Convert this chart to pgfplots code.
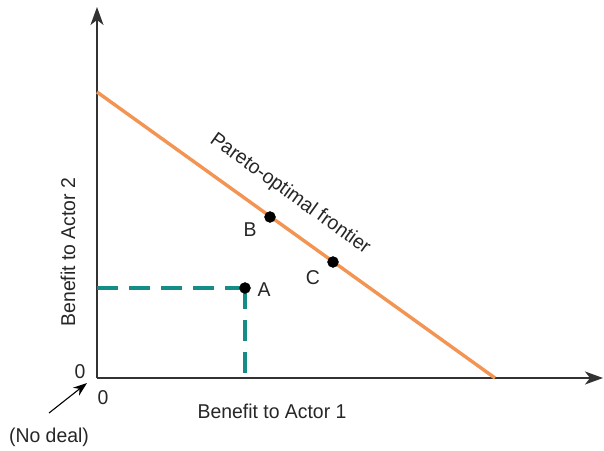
\documentclass[border=0pt]{standalone}
\usepackage{fontspec}
\setmainfont[FakeStretch=0.97]{Liberation Sans}
\usepackage{pgfplots}
\pgfplotsset{compat=1.18}
\usetikzlibrary{arrows.meta}
\definecolor{frontier}{RGB}{243,148,82}
\definecolor{tealdash}{RGB}{22,140,134}
\definecolor{axisgray}{RGB}{50,50,50}
\newcommand\lf{\fontsize{20}{22}\selectfont}
\begin{document}
\begin{tikzpicture}
\useasboundingbox (-97pt,-72pt) rectangle (507pt,378pt);
\begin{axis}[
  at={(0pt,0pt)}, anchor=south west,
  scale only axis, width=506pt, height=371pt,
  xmin=0, xmax=506, ymin=0, ymax=371,
  axis lines=left,
  axis line style={draw=axisgray, line width=1.3pt, -{Stealth[length=18pt,width=13pt,inset=5pt]}},
  xtick=\empty, ytick=\empty,
  clip=false,
]
% frontier
\addplot[frontier, line width=3.4pt] coordinates {(0,286) (398,0)};
% dashed
\addplot[tealdash, line width=3.2pt, dash pattern=on 21pt off 11pt] coordinates {(0,90) (148,90)};
\addplot[tealdash, line width=3.2pt, dash pattern=on 21pt off 11pt] coordinates {(148,90) (148,0)};
% points
\addplot[only marks, mark=*, mark size=5.5pt, black] coordinates {(148,90) (173,161) (236,116)};
% labels
\node[text=black!85] at (axis cs:153,148) {\lf B};
\node[text=black!85] at (axis cs:216,100) {\lf C};
\node[text=black!85] at (axis cs:167,88) {\lf A};
\node[text=black!85, rotate=-35.7] at (axis cs:193,184) {\lf Pareto-optimal frontier};
\node[text=black!85] at (axis cs:175,-33) {\lf Benefit to Actor 1};
\node[text=black!85, rotate=90] at (axis cs:-29,126) {\lf Benefit to Actor 2};
\node[text=black!85] at (axis cs:-17,6) {\lf 0};
\node[text=black!85] at (axis cs:6,-20) {\lf 0};
\node[text=black!85] at (axis cs:-48,-59) {\lf (No deal)};
\draw[black, line width=1.1pt, -{Stealth[length=14pt,width=10pt]}] (axis cs:-48,-35) -- (axis cs:-10,-5);
\end{axis}
\end{tikzpicture}
\end{document}
